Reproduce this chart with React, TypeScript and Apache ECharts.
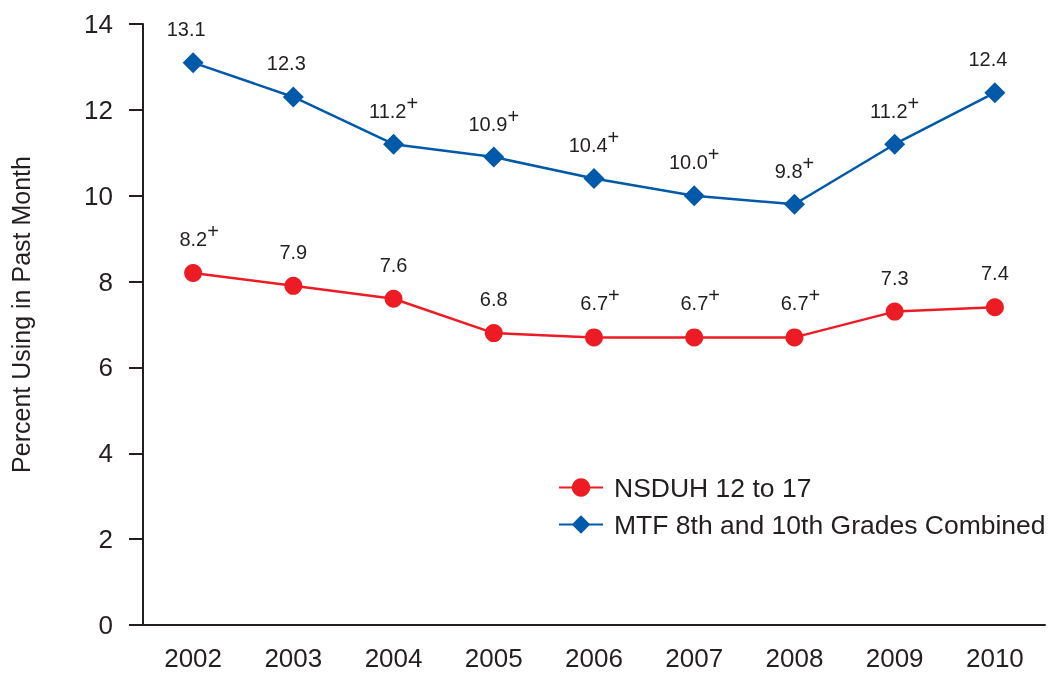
import React, { useEffect, useRef } from "react";
import * as echarts from "echarts";

const years = ["2002", "2003", "2004", "2005", "2006", "2007", "2008", "2009", "2010"];
const nsduh = [8.2, 7.9, 7.6, 6.8, 6.7, 6.7, 6.7, 7.3, 7.4];
const nsduhSig = [true, false, false, false, true, true, true, false, false];
const mtf = [13.1, 12.3, 11.2, 10.9, 10.4, 10.0, 9.8, 11.2, 12.4];
const mtfSig = [false, false, true, true, true, true, true, true, false];
const yTicks = [0, 2, 4, 6, 8, 10, 12, 14];

const RED = "#ed1c24";
const BLUE = "#005aa9";
const INK = "#231f20";
const FONT = "Liberation Sans, Arial, sans-serif";

const rich = {
  v: { fontSize: 20, lineHeight: 20, verticalAlign: "bottom", color: INK, fontFamily: FONT },
  p: { fontSize: 20, lineHeight: 20, verticalAlign: "bottom", padding: [0, 0, 8, 0], color: INK, fontFamily: FONT },
};

function makeData(vals: number[], sig: boolean[], twoDigit: boolean) {
  return vals.map((v, i) => {
    const txt = v.toFixed(1);
    const fmt = sig[i] ? `{v|${txt}}{p|+}` : `{v|${txt}}`;
    let dx = 0;
    if (twoDigit) dx = sig[i] ? 0 : -7;
    else dx = sig[i] ? 6 : 0;
    return { value: v, label: { formatter: fmt, offset: [dx, 0] } };
  });
}

export default function App() {
  const ref = useRef<HTMLDivElement>(null);
  useEffect(() => {
    if (!ref.current) return;
    const chart = echarts.init(ref.current, null, { renderer: "svg" });
    chart.setOption({
      animation: false,
      textStyle: { fontFamily: FONT, color: INK },
      grid: { left: 143, right: 4, top: 24, bottom: 48, containLabel: false, outerBoundsMode: "none" },
      legend: {
        orient: "vertical",
        left: 553,
        top: 469,
        itemWidth: 44,
        itemHeight: 23,
        itemGap: 10,
        textStyle: { fontSize: 26.5, color: INK, fontFamily: FONT, padding: [0, 0, 0, 6] },
        data: ["NSDUH 12 to 17", "MTF 8th and 10th Grades Combined"],
      },
      xAxis: {
        type: "category",
        data: years,
        boundaryGap: true,
        axisLine: { lineStyle: { color: INK, width: 2 } },
        axisTick: { alignWithLabel: true, length: 14, lineStyle: { color: INK, width: 2 } },
        axisLabel: { fontSize: 26, color: INK, margin: 20, fontFamily: FONT },
      },
      yAxis: {
        type: "value",
        min: yTicks[0],
        max: yTicks[yTicks.length - 1],
        interval: 2,
        name: "Percent Using in Past Month",
        nameLocation: "middle",
        nameGap: 110,
        nameTextStyle: { fontSize: 25, color: INK, fontFamily: FONT, padding: [0, 0, 0, 20] },
        axisLine: { show: true, lineStyle: { color: INK, width: 2 } },
        axisTick: { show: true, length: 14, lineStyle: { color: INK, width: 2 } },
        axisLabel: { fontSize: 26, color: INK, margin: 30, fontFamily: FONT },
        splitLine: { show: false },
      },
      series: [
        {
          name: "NSDUH 12 to 17",
          type: "line",
          data: makeData(nsduh, nsduhSig, false),
          symbol: "circle",
          symbolSize: 18,
          itemStyle: { color: RED },
          lineStyle: { color: RED, width: 2.5 },
          label: { show: true, position: "top", distance: 15, rich },
        },
        {
          name: "MTF 8th and 10th Grades Combined",
          type: "line",
          data: makeData(mtf, mtfSig, true),
          symbol: "diamond",
          symbolSize: 21,
          itemStyle: { color: BLUE },
          lineStyle: { color: BLUE, width: 2.5 },
          label: { show: true, position: "top", distance: 13, rich },
        },
      ],
    });
    return () => chart.dispose();
  }, []);
  return <div ref={ref} style={{ position: "fixed", left: 0, top: 0, width: 1049, height: 673 }} />;
}
